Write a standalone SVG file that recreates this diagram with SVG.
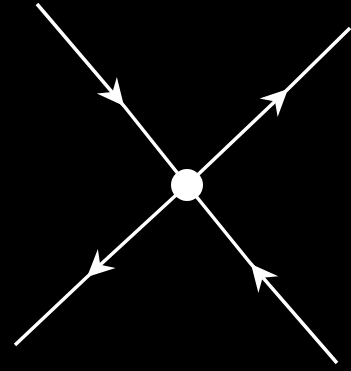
<svg xmlns="http://www.w3.org/2000/svg" width="351" height="371" viewBox="0 0 351 371">
<style>
.edge{stroke:#fff;stroke-width:3.5;fill:none;marker-mid:url(#ah)}
</style>
<defs>
<marker id="ah" markerUnits="userSpaceOnUse" markerWidth="40" markerHeight="40" refX="0" refY="0" viewBox="-30 -20 40 40" orient="auto" overflow="visible">
<path d="M0,0 L-27,-13 L-18,0 L-27,13 Z" fill="#fff"/>
</marker>
</defs>
<rect width="351" height="371" fill="#000"/>
<g id="connectors">
<path class="edge" d="M37,4 L124,106 L187,185"/>
<path class="edge" d="M187,185 L288,89 L350,28"/>
<path class="edge" d="M187,185 L87,277 L15,345"/>
<path class="edge" d="M337,363 L251,264 L187,185"/>
</g>
<g id="node-center">
<circle cx="187" cy="185" r="16" fill="#fff"/>
</g>
</svg>
